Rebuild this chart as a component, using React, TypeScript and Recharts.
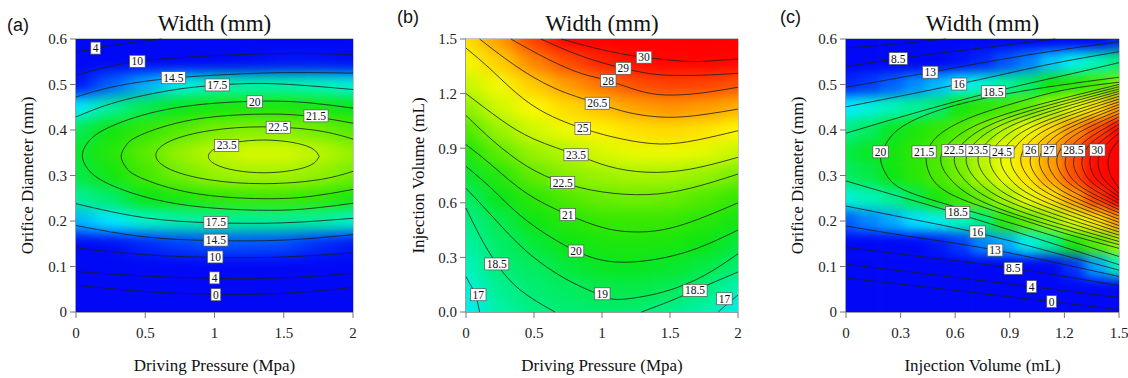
import React from 'react';
import { ComposedChart, XAxis, YAxis, Scatter, ReferenceArea } from 'recharts';

const SERIF = '"Liberation Serif", "Times New Roman", "DejaVu Serif", serif';
const SANS = '"Liberation Sans", Arial, sans-serif';
const PLOT_TOP = 39;
const PLOT_H = 273;
const CHART_H = 378;

// ---------- panel (a): driving pressure vs orifice diameter ----------
const aXs = [0, 0.25, 0.5, 0.75, 1, 1.25, 1.5, 1.75, 2];
const aYs = [0.6, 0.55, 0.5, 0.45, 0.4, 0.35, 0.3, 0.25, 0.2, 0.15, 0.1, 0.05, 0];
const aGrid = [
  [1, 2.5, 3.5, 4.5, 5.5, 6, 6.5, 6.5, 6],
  [7.3, 8.7, 10.3, 11, 11.4, 11.7, 12, 12, 11.7],
  [11.9, 13.8, 15.0, 16.3, 17.3, 17.5, 17.5, 17.2, 16.6],
  [16.0, 17.8, 19.1, 19.9, 20.4, 20.6, 20.6, 20.4, 19.9],
  [19.0, 20.2, 21.2, 21.9, 22.5, 22.7, 22.7, 22.4, 21.9],
  [19.6, 20.8, 22.0, 23.0, 23.6, 24.0, 24.0, 23.6, 23.0],
  [19.2, 20.3, 21.6, 22.4, 23.0, 23.2, 23.2, 22.9, 22.4],
  [17.9, 18.7, 20.0, 20.5, 21.1, 21.5, 21.5, 21.2, 20.5],
  [15.1, 16.0, 17.0, 17.5, 17.8, 17.9, 17.9, 17.7, 17.0],
  [10.8, 11.7, 12.8, 13.3, 13.6, 13.6, 13.5, 13.0, 12.2],
  [5.3, 6.0, 6.7, 7.2, 7.4, 7.4, 7.3, 6.7, 6.0],
  [-1, 0, 0.8, 1.2, 1.3, 1.3, 1.2, 0.7, -0.4],
  [-7, -6, -5, -4.5, -4.5, -4.5, -4.6, -5, -6],
];
const a0 = [[0, 0.059], [0.5, 0.045], [1, 0.039], [1.5, 0.041], [2, 0.054]];
const a4b = [[0, 0.089], [0.5, 0.079], [1, 0.074], [1.5, 0.075], [2, 0.085]];
const a4t = [[0, 0.571], [0.15, 0.58], [0.35, 0.59], [0.62, 0.6]];
const a10t = [[0, 0.52], [0.2, 0.537], [0.45, 0.551], [0.8, 0.56], [1.2, 0.566], [1.6, 0.568], [2, 0.566]];
const a10b = [[0, 0.141], [0.5, 0.126], [1, 0.12], [1.5, 0.121], [2, 0.13]];
const a145t = [[0, 0.4725], [0.3, 0.497], [0.7, 0.514], [1.1, 0.522], [1.5, 0.526], [2, 0.525]];
const a145b = [[0, 0.19], [0.5, 0.165], [1, 0.157], [1.5, 0.158], [2, 0.17]];
const a175t = [[0, 0.4286], [0.3, 0.462], [0.7, 0.488], [1.0, 0.498], [1.4, 0.502], [2, 0.489]];
const a175b = [[0, 0.238], [0.5, 0.207], [1, 0.196], [1.5, 0.196], [2, 0.206]];
const a20 = [[2, 0.448], [1.695, 0.4594], [1.356, 0.4635], [0.908, 0.4563], [0.514, 0.4354], [0.222, 0.4035], [0.091, 0.3746], [0.046, 0.3435], [0.091, 0.3124], [0.222, 0.2835], [0.514, 0.2516], [0.908, 0.2307], [1.356, 0.2235], [1.695, 0.2276], [2, 0.239]];
const a215 = [[2, 0.415], [1.708, 0.4294], [1.356, 0.435], [0.841, 0.4225], [0.464, 0.3885], [0.361, 0.366], [0.326, 0.342], [0.361, 0.318], [0.464, 0.2955], [0.841, 0.2615], [1.356, 0.249], [1.708, 0.2546], [2, 0.2694]];
const a225 = [[2, 0.38], [1.746, 0.3986], [1.356, 0.407], [0.966, 0.3986], [0.681, 0.3758], [0.576, 0.3445], [0.681, 0.3133], [0.966, 0.2904], [1.356, 0.282], [1.746, 0.2904], [2, 0.309]];
const a235 = [[1.756, 0.342], [1.702, 0.36], [1.556, 0.373], [1.356, 0.378], [1.156, 0.373], [1.01, 0.36], [0.956, 0.342], [1.01, 0.324], [1.156, 0.311], [1.356, 0.306], [1.556, 0.311], [1.702, 0.324], [1.756, 0.342]];
const aLines = [a0, a4b, a4t, a10t, a10b, a145t, a145b, a175t, a175b, a20, a215, a225, a235];
const aLabels = [
  ['4', 0.142, 0.58], ['10', 0.443, 0.551], ['14.5', 0.703, 0.515], ['17.5', 1.02, 0.499],
  ['20', 1.29, 0.462], ['21.5', 1.733, 0.431], ['22.5', 1.46, 0.406], ['23.5', 1.088, 0.366],
  ['17.5', 1.01, 0.197], ['14.5', 1.01, 0.158], ['10', 1.005, 0.121], ['4', 1.0, 0.075], ['0', 1.01, 0.038],
];

// ---------- panel (b): driving pressure vs injection volume ----------
const bXs = [0, 0.25, 0.5, 0.75, 1, 1.25, 1.5, 1.75, 2];
const bYs = [1.5, 1.375, 1.25, 1.125, 1, 0.875, 0.75, 0.625, 0.5, 0.375, 0.25, 0.125, 0];
const bGrid = [
  [25.6, 27.0, 28.6, 30.0, 30.4, 30.6, 30.9, 31, 31],
  [24.7, 26.0, 27.39, 28.35, 29.06, 29.6, 29.83, 29.87, 29.79],
  [23.8, 24.75, 26.09, 27.0, 27.68, 28.27, 28.52, 28.46, 28.2],
  [22.9, 23.93, 24.96, 25.76, 26.37, 26.9, 27.16, 27.0, 26.63],
  [21.75, 23.1, 23.92, 24.59, 25.19, 25.6, 25.76, 25.53, 25.05],
  [20.6, 22.1, 23.05, 23.47, 24.06, 24.4, 24.47, 24.23, 23.76],
  [19.6, 20.85, 22.17, 22.76, 23.09, 23.29, 23.27, 22.99, 22.42],
  [18.75, 19.93, 20.96, 21.8, 22.23, 22.33, 22.23, 21.83, 21.24],
  [18.2, 19.12, 20.15, 20.8, 21.27, 21.42, 21.27, 20.83, 20.33],
  [17.7, 18.78, 19.41, 20.08, 20.47, 20.58, 20.42, 20.05, 19.42],
  [17.2, 18.51, 18.88, 19.4, 19.78, 19.84, 19.68, 19.3, 18.65],
  [16.7, 18.05, 18.61, 18.85, 19.17, 19.2, 19.0, 18.4, 17.38],
  [16.2, 17.6, 18.3, 18.6, 18.7, 18.6, 18.1, 17.6, 16.4],
];
const b30 = [[0.7, 1.5], [0.95, 1.45], [1.15, 1.418], [1.31, 1.4], [1.6, 1.378], [1.8, 1.38], [2, 1.39]];
const b29 = [[0.55, 1.5], [0.8, 1.42], [1.0, 1.37], [1.157, 1.339], [1.35, 1.31], [1.55, 1.3], [1.8, 1.303], [2, 1.312]];
const b28 = [[0.33, 1.5], [0.6, 1.39], [0.85, 1.31], [1.046, 1.271], [1.3, 1.21], [1.52, 1.192], [1.75, 1.205], [2, 1.235]];
const b265 = [[0.1, 1.5], [0.35, 1.36], [0.65, 1.23], [0.965, 1.147], [1.2, 1.095], [1.476, 1.07], [1.75, 1.085], [2, 1.115]];
const b25 = [[0, 1.45], [0.2, 1.32], [0.5, 1.13], [0.858, 1.009], [1.15, 0.95], [1.43, 0.923], [1.7, 0.945], [2, 0.996]];
const b235 = [[0, 1.2], [0.25, 1.06], [0.5, 0.95], [0.809, 0.864], [1.05, 0.8], [1.33, 0.768], [1.65, 0.785], [2, 0.85]];
const b225 = [[0, 1.08], [0.2, 0.94], [0.45, 0.8], [0.711, 0.711], [1.0, 0.66], [1.33, 0.645], [1.65, 0.68], [2, 0.758]];
const b21 = [[0, 0.92], [0.2, 0.8], [0.45, 0.65], [0.748, 0.535], [1.0, 0.465], [1.23, 0.44], [1.55, 0.47], [2, 0.6]];
const b20 = [[0, 0.8], [0.2, 0.67], [0.45, 0.5], [0.809, 0.335], [1.1, 0.275], [1.4, 0.29], [1.7, 0.35], [2, 0.45]];
const b19 = [[0, 0.68], [0.2, 0.52], [0.45, 0.33], [0.75, 0.175], [1.0, 0.09], [1.15, 0.07], [1.45, 0.11], [1.75, 0.2], [2, 0.32]];
const b185l = [[0, 0.571], [0.1, 0.42], [0.226, 0.264], [0.4, 0.12], [0.654, 0]];
const b17l = [[0, 0.194], [0.04, 0.14], [0.075, 0.08], [0.1, 0]];
const b185r = [[1.29, 0], [1.5, 0.06], [1.684, 0.119], [2, 0.22]];
const b17r = [[1.855, 0], [1.93, 0.05], [2, 0.093]];
const bLines = [b30, b29, b28, b265, b25, b235, b225, b21, b20, b19, b185l, b17l, b185r, b17r];
const bLabels = [
  ['30', 1.309, 1.4], ['29', 1.157, 1.339], ['28', 1.046, 1.271], ['26.5', 0.965, 1.147],
  ['25', 0.858, 1.009], ['23.5', 0.809, 0.864], ['22.5', 0.711, 0.711], ['21', 0.748, 0.535],
  ['20', 0.809, 0.335], ['19', 1.002, 0.1], ['18.5', 0.226, 0.264], ['17', 0.09, 0.095],
  ['18.5', 1.684, 0.119], ['17', 1.9, 0.073],
];

// ---------- panel (c): injection volume vs orifice diameter ----------
const cXs = [0, 0.125, 0.25, 0.375, 0.5, 0.625, 0.75, 0.875, 1, 1.125, 1.25, 1.375, 1.5];
const cYs = [0.6, 0.55, 0.5, 0.45, 0.4, 0.35, 0.3, 0.25, 0.2, 0.15, 0.1, 0.05, 0];
const cGrid = [
  [1.5, 2.2, 2.8, 3.3, 3.8, 4.6, 5.5, 6.6, 7.6, 8.3, 9.6, 11.2, 12.6],
  [7.3, 8.2, 9.3, 10.2, 11.1, 12.0, 12.8, 13.6, 14.3, 15.4, 16.4, 17.3, 18.4],
  [12.7, 13.2, 13.8, 14.5, 15.2, 16.1, 16.9, 17.8, 18.7, 20.2, 20.9, 21.7, 22.6],
  [16.0, 16.6, 17.3, 17.9, 18.6, 20.3, 21.0, 21.6, 22.1, 23.1, 24.2, 25.5, 27.0],
  [18.3, 18.9, 19.7, 20.5, 21.2, 21.8, 22.5, 23.5, 24.5, 25.8, 27.1, 28.4, 29.8],
  [19.3, 19.7, 20.3, 21.0, 21.8, 22.6, 23.6, 24.6, 25.8, 27.0, 28.3, 29.6, 30.8],
  [18.8, 19.2, 20.1, 20.9, 21.7, 22.4, 23.4, 24.4, 25.6, 26.9, 28.3, 29.7, 31.0],
  [16.8, 17.3, 18.0, 19.1, 20.5, 21.5, 22.2, 23.2, 24.3, 25.5, 26.9, 28.6, 30.0],
  [13.8, 14.4, 15.0, 15.8, 16.4, 17.2, 18.4, 21.0, 22.0, 23.0, 24.1, 25.5, 27.0],
  [9.3, 9.9, 10.6, 11.3, 12.2, 13.2, 14.4, 15.0, 16.4, 18.0, 20.5, 21.9, 23.1],
  [4.4, 4.3, 4.9, 5.6, 6.4, 7.1, 7.9, 8.8, 9.5, 11.1, 13.1, 14.9, 17.2],
  [-2.7, -2.0, -1.2, -0.6, 0, 0.8, 1.7, 2.5, 3.4, 4.3, 5.3, 6.2, 7.1],
  [-8, -7.3, -6.5, -5.8, -5, -4.3, -3.6, -2.9, -2.2, -1.5, -0.8, -0.2, 0.3],
];
const c0 = [[0, 0.075], [0.5, 0.052], [1.13, 0.0227], [1.5, 0.005]];
const c4b = [[0, 0.105], [0.5, 0.081], [1.02, 0.0557], [1.5, 0.032]];
const c85b = [[0, 0.142], [0.45, 0.12], [0.919, 0.096], [1.5, 0.058]];
const c13b = [[0, 0.189], [0.4, 0.163], [0.819, 0.136], [1.5, 0.078]];
const c16b = [[0, 0.233], [0.35, 0.205], [0.723, 0.174], [1.1, 0.135], [1.5, 0.092]];
const c185b = [[0, 0.288], [0.3, 0.253], [0.614, 0.216], [1.1, 0.155], [1.5, 0.104]];
const c4t = [[0, 0.58], [0.25, 0.588], [0.55, 0.6]];
const c85t = [[0, 0.539], [0.287, 0.557], [0.7, 0.578], [1.15, 0.6]];
const c13t = [[0, 0.494], [0.463, 0.527], [1.0, 0.565], [1.5, 0.594]];
const c16t = [[0, 0.451], [0.621, 0.501], [1.1, 0.543], [1.5, 0.572]];
const c185t = [[0, 0.393], [0.4, 0.44], [0.81, 0.484], [1.2, 0.52], [1.5, 0.548]];
const c20 = [[1.5, 0.516], [1.15, 0.497], [0.8, 0.473], [0.5, 0.442], [0.3, 0.405], [0.22, 0.37], [0.19, 0.338], [0.22, 0.303], [0.3, 0.272], [0.5, 0.243], [0.8, 0.208], [1.15, 0.166], [1.5, 0.122]];
const c215 = [[1.5, 0.505], [1.2, 0.488], [0.95, 0.462], [0.7, 0.43], [0.53, 0.395], [0.46, 0.365], [0.44, 0.336], [0.46, 0.303], [0.53, 0.27], [0.7, 0.238], [0.95, 0.205], [1.2, 0.173], [1.5, 0.14]];
const c22 = [[1.5, 0.5], [0.863, 0.433], [0.598, 0.382], [0.52, 0.335], [0.598, 0.282], [0.863, 0.224], [1.5, 0.148]];
const c225 = [[1.5, 0.495], [0.912, 0.43], [0.667, 0.38], [0.595, 0.335], [0.667, 0.284], [0.912, 0.228], [1.5, 0.155]];
const c23 = [[1.5, 0.49], [0.954, 0.427], [0.727, 0.379], [0.66, 0.335], [0.727, 0.286], [0.954, 0.233], [1.5, 0.162]];
const c235 = [[1.5, 0.485], [0.996, 0.424], [0.787, 0.3775], [0.725, 0.335], [0.787, 0.288], [0.996, 0.237], [1.5, 0.169]];
const c24 = [[1.5, 0.48], [1.039, 0.421], [0.847, 0.376], [0.79, 0.335], [0.847, 0.29], [1.039, 0.241], [1.5, 0.176]];
const c245 = [[1.5, 0.474], [1.078, 0.417], [0.902, 0.3743], [0.85, 0.335], [0.902, 0.292], [1.078, 0.245], [1.5, 0.183]];
const c25 = [[1.5, 0.468], [1.113, 0.414], [0.953, 0.3726], [0.905, 0.335], [0.953, 0.294], [1.113, 0.249], [1.5, 0.19]];
const c255 = [[1.5, 0.462], [1.149, 0.41], [1.003, 0.371], [0.96, 0.335], [1.003, 0.296], [1.149, 0.253], [1.5, 0.197]];
const c26 = [[1.5, 0.456], [1.183, 0.405], [1.051, 0.367], [1.012, 0.332], [1.051, 0.296], [1.183, 0.256], [1.5, 0.204]];
const c265 = [[1.5, 0.45], [1.215, 0.402], [1.097, 0.3654], [1.062, 0.332], [1.097, 0.298], [1.215, 0.26], [1.5, 0.211]];
const c27 = [[1.5, 0.443], [1.247, 0.398], [1.141, 0.3634], [1.11, 0.332], [1.141, 0.3], [1.247, 0.2645], [1.5, 0.218]];
const c275 = [[1.5, 0.436], [1.278, 0.394], [1.185, 0.3614], [1.158, 0.332], [1.185, 0.302], [1.278, 0.269], [1.5, 0.225]];
const c28 = [[1.5, 0.429], [1.308, 0.388], [1.228, 0.357], [1.204, 0.328], [1.228, 0.301], [1.308, 0.271], [1.5, 0.232]];
const c285 = [[1.5, 0.421], [1.338, 0.383], [1.27, 0.3543], [1.25, 0.328], [1.27, 0.303], [1.338, 0.275], [1.5, 0.239]];
const c29 = [[1.5, 0.413], [1.367, 0.378], [1.312, 0.352], [1.296, 0.328], [1.312, 0.305], [1.367, 0.2795], [1.5, 0.246]];
const c295 = [[1.5, 0.404], [1.396, 0.373], [1.353, 0.3495], [1.34, 0.328], [1.353, 0.307], [1.396, 0.284], [1.5, 0.253]];
const c30 = [[1.5, 0.393], [1.425, 0.3665], [1.394, 0.3464], [1.385, 0.328], [1.394, 0.309], [1.425, 0.288], [1.5, 0.261]];
const c305 = [[1.5, 0.378], [1.461, 0.358], [1.445, 0.342], [1.44, 0.328], [1.445, 0.312], [1.461, 0.295], [1.5, 0.272]];
const cLines = [c0, c4b, c85b, c13b, c16b, c185b, c4t, c85t, c13t, c16t, c185t, c20, c215, c22, c225, c23, c235, c24, c245, c25, c255, c26, c265, c27, c275, c28, c285, c29, c295, c30, c305];
const cLabels = [
  ['8.5', 0.287, 0.557], ['13', 0.463, 0.527], ['16', 0.621, 0.501], ['18.5', 0.81, 0.484],
  ['20', 0.19, 0.352], ['21.5', 0.429, 0.352], ['22.5', 0.593, 0.355], ['23.5', 0.725, 0.355],
  ['24.5', 0.857, 0.352], ['26', 1.015, 0.355], ['27', 1.115, 0.355], ['28.5', 1.249, 0.355],
  ['30', 1.381, 0.356], ['18.5', 0.614, 0.219], ['16', 0.723, 0.176], ['13', 0.819, 0.136],
  ['8.5', 0.919, 0.096], ['4', 1.02, 0.0557], ['0', 1.13, 0.0227],
];

// jet-like colour ramp used by the response-surface plots
const STOPS = [
  [11.5, 0, 8, 245], [13, 0, 45, 252], [14.5, 0, 140, 255], [16, 0, 235, 255], [17, 0, 245, 200],
  [18.5, 0, 238, 120], [20, 10, 230, 20], [21.5, 60, 232, 0], [23, 150, 242, 0], [24.2, 225, 250, 0],
  [25, 255, 250, 0], [26.5, 255, 185, 0], [28, 255, 95, 0], [29.3, 255, 20, 0], [30, 255, 0, 0],
];
const heat = (v: number) => {
  if (v <= STOPS[0][0]) return `rgb(${STOPS[0][1]},${STOPS[0][2]},${STOPS[0][3]})`;
  for (let i = 1; i < STOPS.length; i++) {
    const a = STOPS[i - 1], b = STOPS[i];
    if (v <= b[0]) {
      const t = (v - a[0]) / (b[0] - a[0]);
      const c = [1, 2, 3].map(k => Math.round(a[k] + (b[k] - a[k]) * t));
      return `rgb(${c[0]},${c[1]},${c[2]})`;
    }
  }
  const l = STOPS[STOPS.length - 1];
  return `rgb(${l[1]},${l[2]},${l[3]})`;
};

const toPts = (arr: number[][]) => arr.map(([x, y]) => ({ x, y }));
const NoDot = () => <g />;

const labelWidth = (t: string) => t.split('').reduce((w, c) => w + (c === '.' ? 2.9 : 5.75), 0) + 4;

const LabelBox = (p: any) => {
  const { cx, cy, payload } = p;
  const w = labelWidth(payload.t);
  return (
    <g>
      <rect x={cx - w / 2} y={cy - 6} width={w} height={12} fill="#fff" stroke="#555" strokeWidth={0.7} />
      <text x={cx} y={cy + 4} textAnchor="middle" fontSize={11.5} fill="#111" style={{ fontFamily: SERIF }}>{payload.t}</text>
    </g>
  );
};

const panels = [
  {
    id: 'a', left: 0, width: 380, yAxisW: 76, mr: 27, xDomain: [0, 2], yDomain: [0, 0.6],
    xTicks: [0, 0.5, 1, 1.5, 2], yTicks: [0, 0.1, 0.2, 0.3, 0.4, 0.5, 0.6], yFmt: (v: number) => String(v),
    xs: aXs, ys: aYs, grid: aGrid, lines: aLines, labels: aLabels, blur: '11 7',
    xLabel: 'Driving Pressure (Mpa)', yLabel: 'Orifice Diameter (mm)', letter: '(a)', letterX: 7, letterY: 16, yLabelX: 27,
  },
  {
    id: 'b', left: 380, width: 380, yAxisW: 86, mr: 22, xDomain: [0, 2], yDomain: [0, 1.5],
    xTicks: [0, 0.5, 1, 1.5, 2], yTicks: [0, 0.3, 0.6, 0.9, 1.2, 1.5], yFmt: (v: number) => v.toFixed(1),
    xs: bXs, ys: bYs, grid: bGrid, lines: bLines, labels: bLabels, blur: '11 7',
    xLabel: 'Driving Pressure (Mpa)', yLabel: 'Injection Volume (mL)', letter: '(b)', letterX: 17, letterY: 8, yLabelX: 38,
  },
  {
    id: 'c', left: 760, width: 368, yAxisW: 86, mr: 9, xDomain: [0, 1.5], yDomain: [0, 0.6],
    xTicks: [0, 0.3, 0.6, 0.9, 1.2, 1.5], yTicks: [0, 0.1, 0.2, 0.3, 0.4, 0.5, 0.6], yFmt: (v: number) => String(v),
    xs: cXs, ys: cYs, grid: cGrid, lines: cLines, labels: cLabels, blur: '6 6',
    xLabel: 'Injection Volume (mL)', yLabel: 'Orifice Diameter (mm)', letter: '(c)', letterX: 20, letterY: 8, yLabelX: 37,
  },
];

const Panel = ({ cfg }: { cfg: any }) => {
  const plotW = cfg.width - cfg.yAxisW - cfg.mr;
  const cw = plotW / (cfg.xs.length - 1);
  const ch = PLOT_H / (cfg.ys.length - 1);
  const lastI = cfg.ys.length - 1;
  const lastJ = cfg.xs.length - 1;
  const PAD = 45;

  const cells: any[] = [];
  cfg.grid.forEach((row: number[], i: number) =>
    row.forEach((v, j) => cells.push({ x: cfg.xs[j], y: cfg.ys[i], v, i, j })));

  const Cell = (p: any) => {
    const { cx, cy, payload } = p;
    let x0 = cx - cw / 2, x1 = cx + cw / 2, y0 = cy - ch / 2, y1 = cy + ch / 2;
    if (payload.j === 0) x0 -= PAD;
    if (payload.j === lastJ) x1 += PAD;
    if (payload.i === 0) y0 -= PAD;
    if (payload.i === lastI) y1 += PAD;
    return <rect x={x0} y={y0} width={x1 - x0 + 0.6} height={y1 - y0 + 0.6} fill={heat(payload.v)} />;
  };

  const labels = cfg.labels.map(([t, x, y]: any) => ({ t, x, y }));
  const tick = { fontFamily: SERIF, fontSize: 15, fill: '#222' };
  const centerX = cfg.yAxisW + plotW / 2;

  return (
    <div style={{ position: 'absolute', left: cfg.left, top: 0, width: cfg.width, height: CHART_H }}>
      <svg width={0} height={0} style={{ position: 'absolute' }}>
        <defs>
          <filter id={`blur-${cfg.id}`} x="-20%" y="-20%" width="140%" height="140%" colorInterpolationFilters="sRGB">
            <feGaussianBlur stdDeviation={cfg.blur} />
          </filter>
          <clipPath id={`clip-${cfg.id}`}>
            <rect x={cfg.yAxisW} y={PLOT_TOP} width={plotW} height={PLOT_H} />
          </clipPath>
        </defs>
      </svg>
      <style>{`.heat-${cfg.id}{filter:url(#blur-${cfg.id});clip-path:url(#clip-${cfg.id});}`}</style>
      <ComposedChart width={cfg.width} height={CHART_H} margin={{ top: PLOT_TOP, right: cfg.mr, bottom: 26, left: 0 }}>
        <XAxis type="number" dataKey="x" domain={cfg.xDomain} ticks={cfg.xTicks} interval={0}
          height={40} tickSize={6} tickMargin={9} tick={tick}
          axisLine={{ stroke: '#777' }} tickLine={{ stroke: '#777' }} />
        <YAxis type="number" dataKey="y" domain={cfg.yDomain} ticks={cfg.yTicks} interval={0}
          width={cfg.yAxisW} tickSize={6} tickMargin={3} tick={tick} tickFormatter={cfg.yFmt}
          axisLine={{ stroke: '#777' }} tickLine={{ stroke: '#777' }} />
        <Scatter className={`heat-${cfg.id}`} data={cells} shape={Cell} isAnimationActive={false} />
        {cfg.lines.map((ln: number[][], k: number) => (
          <Scatter key={k} data={toPts(ln)} shape={NoDot} line={{ stroke: '#1d1d1d', strokeWidth: 0.8, fill: 'none' }}
            lineType="joint" lineJointType="natural" isAnimationActive={false} />
        ))}
        <ReferenceArea x1={cfg.xDomain[0]} x2={cfg.xDomain[1]} y1={cfg.yDomain[0]} y2={cfg.yDomain[1]}
          fill="none" fillOpacity={0} stroke="#888" strokeWidth={1} />
        <Scatter data={labels} shape={LabelBox} isAnimationActive={false} />
      </ComposedChart>
      <div style={{ position: 'absolute', left: centerX - 150, width: 300, top: 12, textAlign: 'center',
        fontFamily: SERIF, fontSize: 23, lineHeight: '23px', color: '#111' }}>Width (mm)</div>
      <div style={{ position: 'absolute', left: centerX - 150, width: 300, top: 357, textAlign: 'center',
        fontFamily: SERIF, fontSize: 17, lineHeight: '17px', color: '#111' }}>{cfg.xLabel}</div>
      <div style={{ position: 'absolute', left: cfg.yLabelX - 150, top: 175 - 8.5, width: 300, height: 17,
        textAlign: 'center', fontFamily: SERIF, fontSize: 17, lineHeight: '17px', color: '#111',
        transform: 'rotate(-90deg)', transformOrigin: '150px 8.5px', whiteSpace: 'nowrap' }}>{cfg.yLabel}</div>
      <div style={{ position: 'absolute', left: cfg.letterX, top: cfg.letterY, fontFamily: SANS, fontSize: 18,
        lineHeight: '18px', color: '#111' }}>{cfg.letter}</div>
    </div>
  );
};

const globalCss = `.recharts-wrapper, .recharts-wrapper text { font-family: ${SERIF}; }
.recharts-cartesian-axis-tick-value { font-family: ${SERIF}; font-size: 15px; }`;

export default function App() {
  return (
    <div style={{ position: 'absolute', left: 0, top: 0, width: 1128, height: 378, background: '#fff',
      overflow: 'hidden', fontFamily: SERIF }}>
      <style>{globalCss}</style>
      {panels.map(p => <Panel key={p.id} cfg={p} />)}
    </div>
  );
}
